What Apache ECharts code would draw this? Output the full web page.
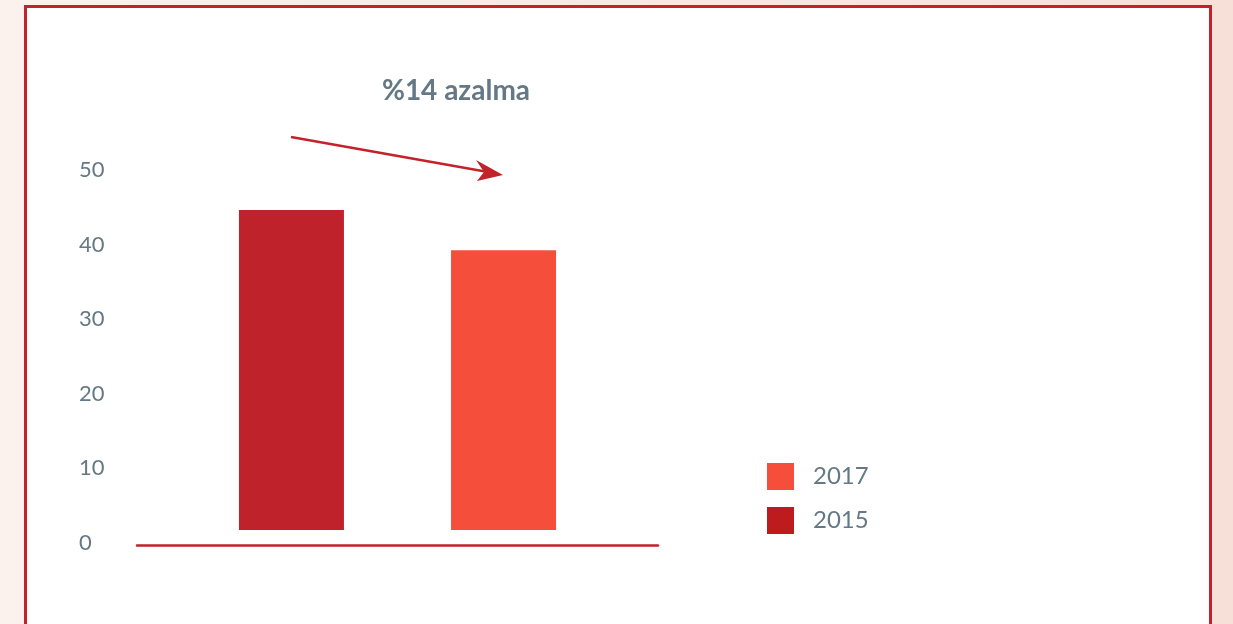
<!DOCTYPE html>
<html>
<head>
<meta charset="utf-8">
<script src="https://cdn.jsdelivr.net/npm/echarts@6/dist/echarts.min.js"></script>
<style>
  html, body { margin: 0; padding: 0; width: 1233px; height: 624px; overflow: hidden; }
  body { background: linear-gradient(to right, #fbf2ed, #f6e0d8); position: relative; }
  #box { position: absolute; left: 24px; top: 5px; width: 1182px; height: 700px;
         background: #fff; border: 3px solid #c4222b; }
  #chart { position: absolute; left: 0; top: 0; width: 1233px; height: 624px; }
</style>
</head>
<body>
<div id="box"></div>
<div id="chart"></div>
<script>
// data
var title = '%14 azalma';
var years = ['2015', '2017'];
var values = [42.9, 37.5];
var barColors = ['#bf222b', '#f54f3c'];
var legendColors = { '2015': '#be1b1e', '2017': '#f54f3c' };
var yTicks = [0, 10, 20, 30, 40, 50];

var textColor = '#647985';
var font = 'Lato';

var chart = echarts.init(document.getElementById('chart'));

var series = years.map(function (y, i) {
    return {
        name: y,
        type: 'bar',
        yAxisIndex: 1,
        barWidth: 105,
        barGap: '102%',
        itemStyle: { color: barColors[i] },
        data: [values[i]]
    };
});

var option = {
    backgroundColor: 'transparent',
    animation: false,
    title: {
        text: title,
        left: 456,
        top: 77,
        padding: 0,
        textAlign: 'center',
        textStyle: { color: textColor, fontFamily: font, fontWeight: 'bold', fontSize: 28 }
    },
    legend: {
        orient: 'vertical',
        left: 767,
        top: 463,
        padding: 0,
        icon: 'rect',
        itemWidth: 27,
        itemHeight: 27,
        itemGap: 17,
        selectedMode: false,
        data: ['2017', '2015'].map(function (n) {
            return { name: n, itemStyle: { color: legendColors[n] } };
        }),
        textStyle: { color: textColor, fontFamily: font, fontSize: 24, padding: [0, 0, 0, 14] }
    },
    grid: { left: 137, right: 575, top: 170, bottom: 81 },
    xAxis: {
        type: 'category',
        data: [''],
        offset: 2,
        axisLine: { onZero: false, lineStyle: { color: '#c4222b', width: 2.5 } },
        axisTick: { show: false },
        axisLabel: { show: false }
    },
    yAxis: [{
        type: 'value',
        min: yTicks[0],
        max: yTicks[yTicks.length - 1],
        interval: 10,
        axisLine: { show: false },
        axisTick: { show: false },
        splitLine: { show: false },
        axisLabel: { align: 'left', margin: 58, color: textColor, fontFamily: font, fontSize: 22 }
    }, {
        type: 'value',
        show: false,
        min: -1.74,
        max: 48.26,
        splitLine: { show: false }
    }],
    graphic: [{
        type: 'line',
        shape: { x1: 291, y1: 137, x2: 488, y2: 172 },
        style: { stroke: '#c4222b', lineWidth: 2.5 }
    }, {
        type: 'polygon',
        shape: { points: [[503, 175], [476, 160], [484, 172], [477, 181]] },
        style: { fill: '#c4222b' }
    }],
    series: series
};

chart.setOption(option);
</script>
</body>
</html>
